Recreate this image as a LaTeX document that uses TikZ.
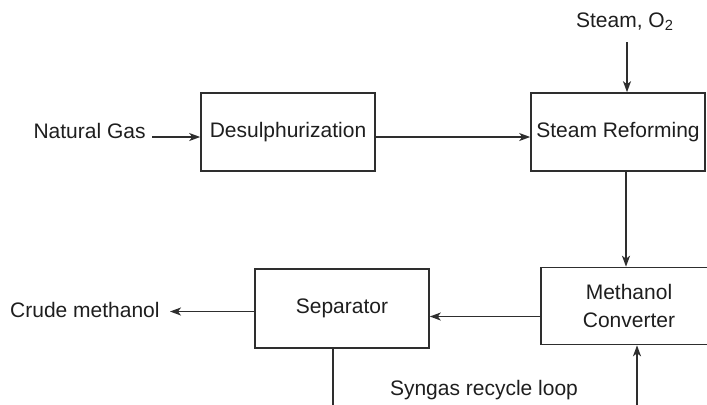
\documentclass[tikz,border=0pt]{standalone}
\usepackage{fontspec}
\setmainfont{Liberation Sans}
\usetikzlibrary{arrows.meta}
\definecolor{ln}{HTML}{2E2E2E}
\definecolor{tx}{HTML}{1E1E1E}
\begin{document}
\begin{tikzpicture}[x=0.5pt,y=-0.5pt,
  every node/.style={font=\fontsize{10.5}{12.6}\selectfont,text=tx,inner sep=0pt},
  blk/.style={draw=ln,line width=0.8pt,minimum width=87pt,minimum height=39pt,align=center},
  lbl/.style={anchor=center,align=center},
  flow/.style={draw=ln,line width=0.8pt,-{Stealth[length=5.5pt,width=4pt,inset=1.5pt]}},
  plain/.style={draw=ln,line width=0.8pt}]
\useasboundingbox (0,0) rectangle (707,404);
\clip (0,0) rectangle (707,404);
% boxes
\node[blk] (des) at (288,132) {Desulphurization};
\node[blk] (sr) at (618,132) {Steam Reforming};
\node[blk,minimum height=39.5pt] (sep) at (342,308.5) {Separator};
\node[blk,minimum height=38.5pt,minimum width=100pt,anchor=west] (mc) at (540,306) {};
% labels
\node[lbl] (mct) at (629,306) {Methanol\\[1.5pt]Converter};
\node[lbl,anchor=east] (ng) at (146,131) {Natural Gas};
\node[lbl] (so) at (625,22) {Steam, O\textsubscript{2}};
\node[lbl,anchor=east] (cm) at (160,310) {Crude methanol};
\node[lbl] (sy) at (484,390) {Syngas recycle loop};
% coordinates
\coordinate (ngend) at (152,137);
\coordinate (cmend) at (170,311.5);
\coordinate (loopL) at (333,420);
\coordinate (loopR) at (637,420);
% connectors
\draw[flow] (ngend) -- (ngend -| des.west);
\draw[flow] (des.east |- 0,137) -- (sr.west |- 0,137);
\draw[flow] (627,42) -- (sr.north -| 627,0);
\draw[flow] (sr.south -| 626,0) -- (mc.north -| 626,0);
\draw[flow] (mc.west |- 0,316.5) -- (sep.east |- 0,316.5);
\draw[flow] (sep.west |- cmend) -- (cmend);
\draw[plain] (sep.south -| loopL) -- (loopL) -- (loopR);
\draw[flow] (loopR) -- (mc.south -| loopR);
\end{tikzpicture}
\end{document}
